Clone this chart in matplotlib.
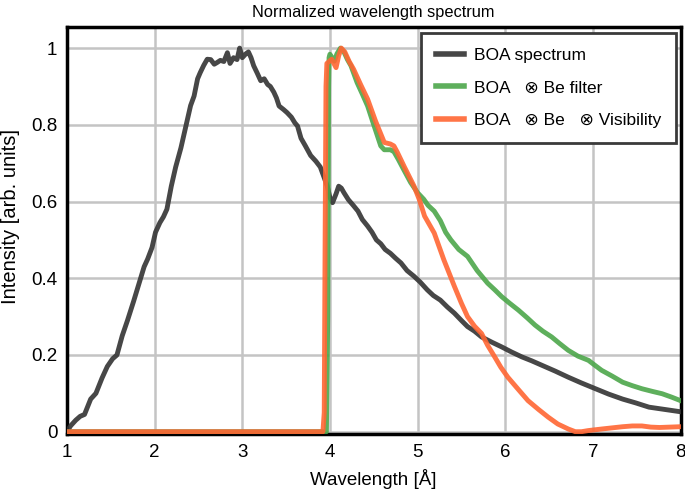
import matplotlib
matplotlib.use("Agg")
import matplotlib.pyplot as plt
import numpy as np

plt.rcParams["font.family"] = ["Liberation Sans", "DejaVu Sans"]

# BOA spectrum
boa_x = [1.0, 1.04, 1.1, 1.15, 1.2, 1.27, 1.33, 1.40, 1.46, 1.52, 1.57, 1.63, 1.69, 1.76,
         1.84, 1.88, 1.92, 1.97, 2.01, 2.06, 2.10, 2.14, 2.19, 2.24, 2.30, 2.37, 2.41, 2.45,
         2.49, 2.52, 2.56, 2.60, 2.64, 2.68, 2.71, 2.75, 2.79, 2.83, 2.86, 2.90, 2.94, 2.97,
         3.00, 3.04, 3.07, 3.10, 3.13, 3.17, 3.21, 3.25, 3.29, 3.32, 3.36, 3.39, 3.42, 3.47,
         3.51, 3.56, 3.60, 3.63, 3.67, 3.72, 3.78, 3.84, 3.89, 3.93, 3.97, 4.00, 4.03, 4.07,
         4.10, 4.13, 4.16, 4.21, 4.27, 4.32, 4.37, 4.43, 4.48, 4.53, 4.58, 4.63, 4.69, 4.75,
         4.81, 4.88, 4.96, 5.03, 5.11, 5.18, 5.26, 5.34, 5.42, 5.50, 5.57, 5.65, 5.73, 5.85,
         5.96, 6.07, 6.19, 6.30, 6.42, 6.57, 6.72, 6.87, 7.03, 7.18, 7.34, 7.49, 7.64, 7.82, 8.0]
boa_y = [0.0, 0.015, 0.03, 0.04, 0.045, 0.085, 0.10, 0.14, 0.17, 0.19, 0.20, 0.25, 0.29, 0.34,
         0.40, 0.43, 0.45, 0.48, 0.52, 0.545, 0.56, 0.58, 0.64, 0.69, 0.74, 0.81, 0.85, 0.875,
         0.92, 0.936, 0.955, 0.971, 0.97, 0.958, 0.962, 0.968, 0.965, 0.988, 0.96, 0.975, 0.97, 1.0,
         0.975, 0.985, 0.99, 0.975, 0.954, 0.935, 0.915, 0.92, 0.905, 0.90, 0.885, 0.87, 0.849, 0.84,
         0.832, 0.82, 0.805, 0.797, 0.765, 0.745, 0.72, 0.705, 0.69, 0.665, 0.64, 0.61, 0.597, 0.62,
         0.64, 0.635, 0.623, 0.605, 0.589, 0.575, 0.553, 0.536, 0.52, 0.50, 0.49, 0.475, 0.465, 0.452,
         0.440, 0.42, 0.405, 0.39, 0.37, 0.355, 0.343, 0.325, 0.309, 0.29, 0.274, 0.262, 0.247, 0.233,
         0.221, 0.208, 0.195, 0.185, 0.173, 0.158, 0.142, 0.127, 0.112, 0.098, 0.085, 0.075, 0.064, 0.058, 0.052]

# BOA x Be filter
be_x = [1.0, 3.96, 3.975, 3.985, 3.99, 4.0, 4.05, 4.08, 4.12, 4.16, 4.20, 4.24, 4.31, 4.37,
        4.43, 4.50, 4.58, 4.62, 4.69, 4.73, 4.78, 4.84, 4.92, 5.0, 5.07, 5.12, 5.19, 5.26,
        5.32, 5.38, 5.47, 5.57, 5.68, 5.80, 5.88, 5.96, 6.05, 6.15, 6.25, 6.34, 6.43, 6.53,
        6.62, 6.72, 6.83, 6.95, 7.03, 7.10, 7.22, 7.34, 7.45, 7.56, 7.68, 7.79, 7.90, 8.0]
be_y = [0.0, 0.0, 0.3, 0.9, 0.975, 0.984, 0.966, 0.985, 1.0, 0.99, 0.97, 0.954, 0.91, 0.88,
        0.849, 0.80, 0.745, 0.735, 0.735, 0.73, 0.71, 0.684, 0.65, 0.623, 0.606, 0.59, 0.575, 0.55,
        0.52, 0.50, 0.475, 0.457, 0.42, 0.387, 0.37, 0.352, 0.335, 0.317, 0.297, 0.278, 0.262, 0.247,
        0.23, 0.212, 0.197, 0.186, 0.172, 0.16, 0.145, 0.129, 0.12, 0.112, 0.105, 0.099, 0.09, 0.081]

# BOA x Be x Visibility
vis_x = [1.0, 3.92, 3.935, 3.945, 3.955, 3.965, 4.02, 4.07, 4.10, 4.13, 4.17, 4.22, 4.27, 4.35,
         4.43, 4.52, 4.62, 4.69, 4.73, 4.77, 4.85, 4.96, 5.02, 5.08, 5.19, 5.30, 5.42, 5.50,
         5.57, 5.65, 5.73, 5.80, 5.88, 5.95, 6.03, 6.15, 6.26, 6.38, 6.49, 6.60, 6.72, 6.80,
         6.87, 6.95, 7.10, 7.22, 7.34, 7.45, 7.56, 7.66, 7.76, 8.0]
vis_y = [0.0, 0.0, 0.05, 0.5, 0.9, 0.96, 0.971, 0.949, 0.98, 1.0, 0.99, 0.965, 0.945, 0.905,
         0.867, 0.81, 0.754, 0.75, 0.745, 0.728, 0.69, 0.64, 0.605, 0.562, 0.518, 0.448, 0.379, 0.335,
         0.30, 0.275, 0.256, 0.225, 0.195, 0.168, 0.142, 0.11, 0.081, 0.058, 0.038, 0.02, 0.007, 0.0,
         0.0, 0.003, 0.007, 0.01, 0.013, 0.015, 0.015, 0.012, 0.011, 0.013]

fig = plt.figure(figsize=(6.85, 4.96), dpi=100)
ax = fig.add_axes([67 / 685, 1 - 434 / 496, 613.5 / 685, 407 / 496])

ax.plot(boa_x, boa_y, color="#333333", lw=3.5, alpha=0.9, label="BOA spectrum", zorder=3)
ax.plot(be_x, be_y, color="#4ca64a", lw=3.5, alpha=0.9, label="BOA   \u2297 Be filter", zorder=4)
ax.plot(vis_x, vis_y, color="#ff6633", lw=3.5, alpha=0.9,
        label="BOA   \u2297 Be   \u2297 Visibility", zorder=5)

ax.set_xlim(1, 8)
ax.set_ylim(-0.006, 1.055)
ax.set_xticks(np.arange(1, 9))
ax.set_yticks([0, 0.2, 0.4, 0.6, 0.8, 1.0])
ax.set_yticklabels(["0", "0.2", "0.4", "0.6", "0.8", "1"])
ax.tick_params(length=0, labelsize=13.5, pad=7)
ax.grid(True, color="#c4c4c4", lw=1.8)
ax.set_axisbelow(True)
for s in ax.spines.values():
    s.set_linewidth(2.5)
    s.set_color("black")

ax.set_xlabel("Wavelength [\u00c5]", fontsize=13.5, labelpad=6)
fig.text(10.5 / 685, 1 - 216 / 496, "Intensity [arb. units]", fontsize=14.5,
         rotation=90, ha="center", va="center")
ax.set_title("Normalized wavelength spectrum", fontsize=11.8, pad=7)

leg = ax.legend(loc="upper right", bbox_to_anchor=(0.993, 0.985), borderaxespad=0,
                fancybox=False, framealpha=1, edgecolor="#3a3a3a", fontsize=12.5,
                handlelength=1.6, handletextpad=0.6, labelspacing=1.0, borderpad=0.85)
leg.get_frame().set_linewidth(2)
for line in leg.get_lines():
    line.set_linewidth(4)

fig.savefig("out.png", dpi=100)
